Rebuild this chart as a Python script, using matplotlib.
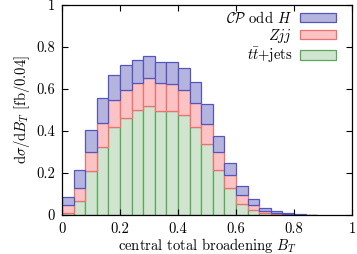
import numpy as np
import matplotlib
matplotlib.use("Agg")
import matplotlib.pyplot as plt

plt.rcParams['font.family'] = ['cmr10', 'DejaVu Serif']
plt.rcParams['mathtext.fontset'] = 'cm'
plt.rcParams['axes.formatter.use_mathtext'] = True

# bin edges: width 0.04 from 0
bin_width = 0.04
ttjets = [0.008, 0.065, 0.208, 0.324, 0.419, 0.460, 0.498, 0.517, 0.494, 0.494, 0.478,
          0.419, 0.337, 0.213, 0.127, 0.052, 0.022, 0.008, 0.003, 0.000, 0.000, 0.000]
zjj = [0.040, 0.062, 0.090, 0.113, 0.129, 0.137, 0.129, 0.134, 0.133, 0.128, 0.117,
       0.113, 0.096, 0.087, 0.065, 0.042, 0.024, 0.011, 0.005, 0.003, 0.001, 0.000]
cp_odd_h = [0.036, 0.086, 0.105, 0.119, 0.117, 0.116, 0.110, 0.106, 0.103, 0.107, 0.103,
            0.101, 0.094, 0.078, 0.057, 0.044, 0.029, 0.014, 0.011, 0.005, 0.003, 0.002]

left = np.arange(len(ttjets)) * bin_width
tt = np.array(ttjets)
zz = np.array(zjj)
hh = np.array(cp_odd_h)

fs = 10.5
fig = plt.figure(figsize=(3.57, 2.54), dpi=100)
ax = fig.add_axes([0.1737, 0.1535, 0.8123, 0.8265])

lw = 0.9
b1 = ax.bar(left, tt, width=bin_width, align='edge',
            facecolor='#d0e4d0', edgecolor='#5aa85a', linewidth=lw, label=r'$t\bar{t}$+jets')
b2 = ax.bar(left, zz, bottom=tt, width=bin_width, align='edge',
            facecolor='#fbc3c3', edgecolor='#f07070', linewidth=lw, label=r'$Zjj$')
b3 = ax.bar(left, hh, bottom=tt + zz, width=bin_width, align='edge',
            facecolor='#b4b4de', edgecolor='#5555c0', linewidth=lw, label=r'$\mathcal{CP}$ odd $H$')

ax.set_xlim(0, 1)
ax.set_ylim(0, 1)
ax.set_xticks([0, 0.2, 0.4, 0.6, 0.8, 1])
ax.set_xticklabels(['0', '0.2', '0.4', '0.6', '0.8', '1'])
ax.set_yticks([0, 0.2, 0.4, 0.6, 0.8, 1])
ax.set_yticklabels(['0', '0.2', '0.4', '0.6', '0.8', '1'])
ax.tick_params(direction='in', top=True, right=True, length=4, width=0.8,
               labelsize=fs, pad=5)
for s in ax.spines.values():
    s.set_linewidth(0.9)

ax.set_xlabel(r'central total broadening $B_T$', fontsize=fs, labelpad=0.5)
ax.set_ylabel(r'$\mathrm{d}\sigma/\mathrm{d}B_T$ [fb/0.04]', fontsize=fs, labelpad=3)

ax.legend(handles=[b3, b2, b1], loc='upper right', bbox_to_anchor=(0.945, 0.975),
          frameon=False, markerfirst=False,
          fontsize=fs, handlelength=2.5, handleheight=0.6, labelspacing=0.08,
          borderaxespad=0, borderpad=0, handletextpad=0.5)

fig.savefig('out.png', dpi=100)
